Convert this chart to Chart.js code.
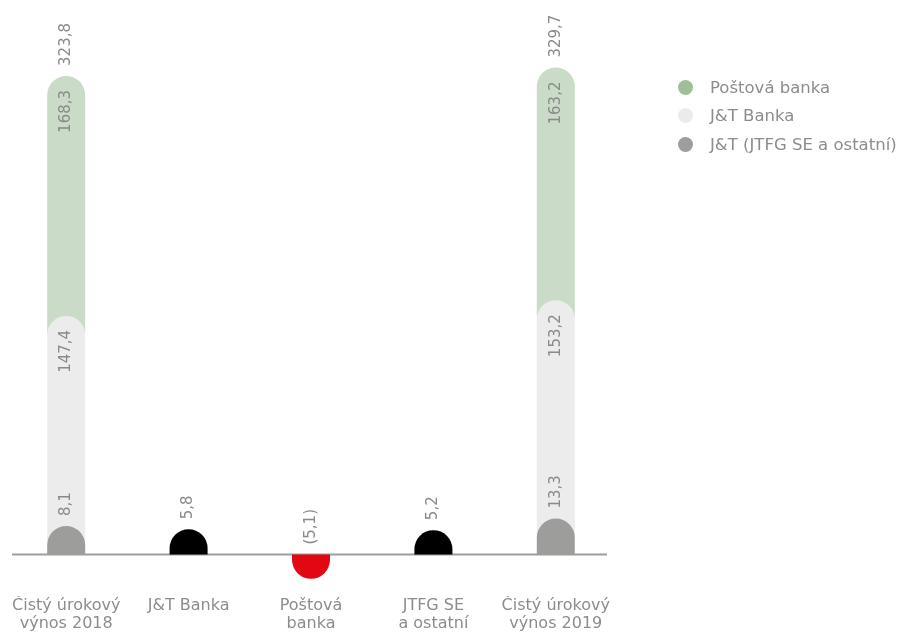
<!DOCTYPE html>
<html>
<head>
<meta charset="utf-8">
<script src="https://cdn.jsdelivr.net/npm/chart.js@4.4.0/dist/chart.umd.min.js"></script>
<style>
  body { margin: 0; background: #fff; }
  #wrap { position: relative; width: 907px; height: 633px; }
  #legend { position: absolute; left: 678px; top: 73px; font-family: "DejaVu Sans", sans-serif; font-size: 16.5px; color: #8c8c8c; }
  #legend div { height: 28.5px; display: flex; align-items: center; white-space: nowrap; }
  #legend span.dot { width: 15px; height: 15px; border-radius: 50%; margin-right: 17px; display: inline-block; }
</style>
</head>
<body>
<div id="wrap">
  <canvas id="myChart"></canvas>
  <div id="legend"></div>
</div>

<script>

	var categories = [["Čistý úrokový", "výnos 2018"], "J&T Banka", ["Poštová", "banka"], ["JTFG SE", "a ostatní"], ["Čistý úrokový", "výnos 2019"]];
	var jtOstatni = [8.1, null, null, null, 13.3];
	var jtBanka = [147.4, null, null, null, 153.2];
	var postovaBanka = [168.3, null, null, null, 163.2];
	var zmena = [null, 5.8, -5.1, 5.2, null];
	var spolu = [323.8, null, null, null, 329.7];

	var legendNames = ["Poštová banka", "J&T Banka", "J&T (JTFG SE a ostatní)"];
	var legendColors = ["#9fc096", "#ebebeb", "#9d9d9c"];

	var CAP = 17; // rounded cap sits on top of the value

	// bars as pills: flat at the base, semicircle at the end
	Chart.BarElement.prototype.draw = function (ctx) {
	    var p = this.getProps(['x', 'y', 'base', 'width']);
	    var r = p.width / 2;
	    var dir = p.y <= p.base ? -1 : 1;
	    var end = p.y + dir * CAP;
	    var cy = end - dir * r;
	    ctx.save();
	    ctx.fillStyle = this.options.backgroundColor;
	    ctx.beginPath();
	    ctx.moveTo(p.x - r, p.base);
	    ctx.lineTo(p.x - r, cy);
	    ctx.arc(p.x, cy, r, Math.PI, 0, dir > 0);
	    ctx.lineTo(p.x + r, p.base);
	    ctx.closePath();
	    ctx.fill();
	    ctx.restore();
	};

	function fmt(v) {
	    var s = Math.abs(v).toFixed(1).replace('.', ',');
	    return v < 0 ? '(' + s + ')' : s;
	}

	function rotatedText(ctx, text, x, y, align) {
	    ctx.save();
	    ctx.translate(x, y);
	    ctx.rotate(-Math.PI / 2);
	    ctx.textAlign = align;
	    ctx.fillText(text, 0, 0);
	    ctx.restore();
	}

	var zeroLine = {
	    id: 'zeroLine',
	    beforeDatasetsDraw: function (chart) {
	        var ctx = chart.ctx, a = chart.chartArea;
	        var y0 = chart.scales.y.getPixelForValue(0);
	        ctx.save();
	        ctx.strokeStyle = '#9d9d9d';
	        ctx.lineWidth = 2;
	        ctx.beginPath();
	        ctx.moveTo(a.left + 7, y0);
	        ctx.lineTo(a.right - 10, y0);
	        ctx.stroke();
	        ctx.restore();
	    }
	};

	var valueLabels = {
	    id: 'valueLabels',
	    afterDatasetsDraw: function (chart) {
	        var ctx = chart.ctx;
	        ctx.save();
	        ctx.font = '15px "DejaVu Sans"';
	        ctx.fillStyle = '#8a8a8a';
	        ctx.textBaseline = 'middle';
	        chart.data.datasets.forEach(function (ds, di) {
	            var meta = chart.getDatasetMeta(di);
	            ds.data.forEach(function (v, i) {
	                if (v == null) return;
	                var bar = meta.data[i];
	                if (v < 0) {
	                    rotatedText(ctx, fmt(v), bar.x, bar.base - 10, 'left');
	                } else if (ds.labelInside) {
	                    rotatedText(ctx, fmt(v), bar.x, bar.y - CAP + 14, 'right');
	                } else {
	                    rotatedText(ctx, fmt(v), bar.x, bar.y - CAP - 10, 'left');
	                }
	            });
	        });
	        // totals above the columns
	        var topMeta = chart.getDatasetMeta(2);
	        spolu.forEach(function (v, i) {
	            if (v == null) return;
	            var bar = topMeta.data[i];
	            rotatedText(ctx, fmt(v), bar.x, bar.y - CAP - 10, 'left');
	        });
	        ctx.restore();
	    }
	};

	var ctx = document.getElementById('myChart').getContext('2d');
	var chart = new Chart(ctx, {
	    type: 'bar',
	    data: {
	        labels: categories,
	        datasets: [{
	            label: "J&T (JTFG SE a ostatní)",
	            backgroundColor: '#9d9d9c',
	            data: jtOstatni
	        }, {
	            label: "J&T Banka",
	            backgroundColor: '#ececec',
	            data: jtBanka,
	            labelInside: true
	        }, {
	            label: "Poštová banka",
	            backgroundColor: '#cadcc7',
	            data: postovaBanka,
	            labelInside: true
	        }, {
	            label: "Zmena",
	            backgroundColor: zmena.map(function (v) { return v < 0 ? '#e30613' : '#000000'; }),
	            data: zmena
	        }]
	    },
	    options: {
	        responsive: true,
	        maintainAspectRatio: false,
	        animation: false,
	        layout: { padding: { left: 5, right: 290, top: 0, bottom: 0 } },
	        datasets: { bar: { barThickness: 38 } },
	        plugins: {
	            legend: { display: false },
	            tooltip: { enabled: false }
	        },
	        scales: {
	            x: {
	                stacked: true,
	                grid: { display: false, drawTicks: false },
	                border: { display: false },
	                ticks: {
	                    padding: 0,
	                    color: '#8c8c8c',
	                    font: { family: 'DejaVu Sans', size: 16, lineHeight: 1.15 },
	                    maxRotation: 0,
	                    autoSkip: false
	                }
	            },
	            y: {
	                stacked: true,
	                display: false,
	                min: -29.2,
	                max: 389
	            }
	        }
	    },
	    plugins: [zeroLine, valueLabels]
	});

	var legend = document.getElementById('legend');
	legendNames.forEach(function (name, i) {
	    var row = document.createElement('div');
	    var dot = document.createElement('span');
	    dot.className = 'dot';
	    dot.style.background = legendColors[i];
	    row.appendChild(dot);
	    row.appendChild(document.createTextNode(name));
	    legend.appendChild(row);
	});

</script>
</body>
</html>
